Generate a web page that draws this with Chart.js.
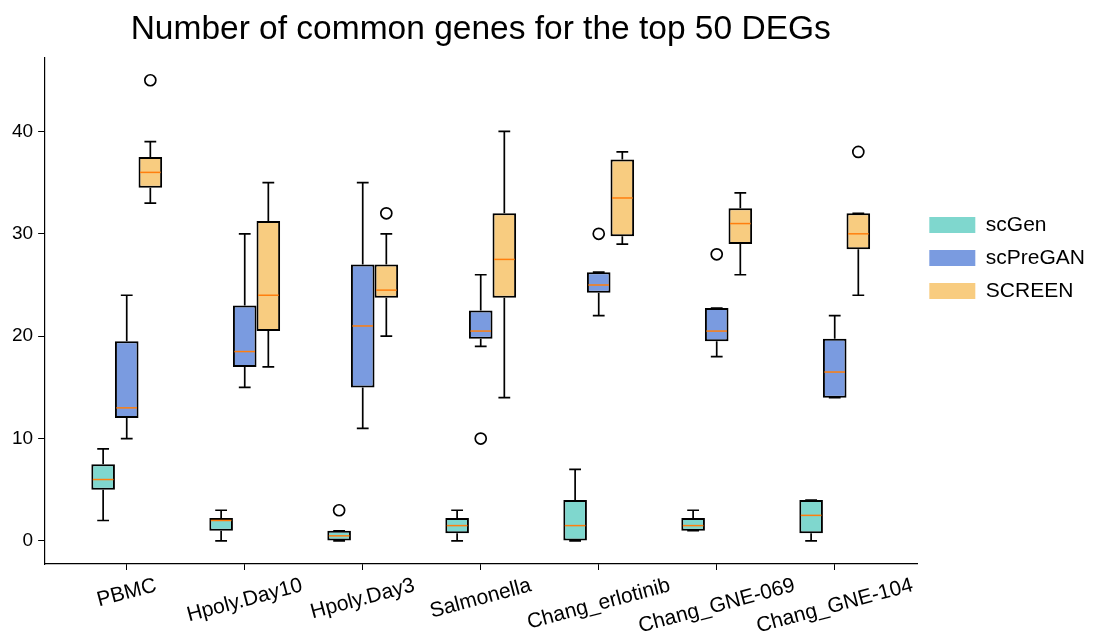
<!DOCTYPE html>
<html>
<head>
<meta charset="utf-8">
<script src="https://cdn.jsdelivr.net/npm/chart.js@4.4.1/dist/chart.umd.min.js"></script>
<style>html, body { margin: 0; padding: 0; background: #fff; }</style>
</head>
<body>
<canvas id="chart_commonGenes" width="1107" height="642"></canvas>
<script>
var categories = ['PBMC', 'Hpoly.Day10', 'Hpoly.Day3', 'Salmonella', 'Chang_erlotinib', 'Chang_GNE-069', 'Chang_GNE-104'];
var seriesNames = ['scGen', 'scPreGAN', 'SCREEN'];
var yTicks = [0, 10, 20, 30, 40];

// box stats per method: lower whisker, q1, median, q3, upper whisker, outliers
var scGenLow = [2, 0, 0, 0, 0, 1, 0];
var scGenQ1 = [5, 1, 0, 0.75, 0, 1, 0.75];
var scGenMedian = [6, 2, 0.5, 1.5, 1.5, 1.5, 2.5];
var scGenQ3 = [7.5, 2.25, 1, 2.25, 4, 2.25, 4];
var scGenHigh = [9, 3, 1, 3, 7, 3, 4];
var scGenOutliers = [[], [], [3], [], [], [], []];

var scPreGANLow = [10, 15, 11, 19, 22, 18, 14];
var scPreGANQ1 = [12, 17, 15, 19.75, 24.25, 19.5, 14];
var scPreGANMedian = [13, 18.5, 21, 20.5, 25, 20.5, 16.5];
var scPreGANQ3 = [19.5, 23, 27, 22.5, 26.25, 22.75, 19.75];
var scPreGANHigh = [24, 30, 35, 26, 26.25, 22.75, 22];
var scPreGANOutliers = [[], [], [], [10], [30], [28], []];

var screenLow = [33, 17, 20, 14, 29, 26, 24];
var screenQ1 = [34.5, 20.5, 23.75, 23.75, 29.75, 29, 28.5];
var screenMedian = [36, 24, 24.5, 27.5, 33.5, 31, 30];
var screenQ3 = [37.5, 31.25, 27, 32, 37.25, 32.5, 32];
var screenHigh = [39, 35, 30, 40, 38, 34, 32];
var screenOutliers = [[45], [], [32], [], [], [], [38]];

var colors = ['#7fd7ce', '#7a9be0', '#f8cc80'];
var FONT = '"Liberation Sans", Arial, sans-serif';

var stats = [
    {low: scGenLow, q1: scGenQ1, med: scGenMedian, q3: scGenQ3, high: scGenHigh, out: scGenOutliers},
    {low: scPreGANLow, q1: scPreGANQ1, med: scPreGANMedian, q3: scPreGANQ3, high: scPreGANHigh, out: scPreGANOutliers},
    {low: screenLow, q1: screenQ1, med: screenMedian, q3: screenQ3, high: screenHigh, out: screenOutliers}
];

var datasets = stats.map(function(s, k) {
    return {
        label: seriesNames[k],
        backgroundColor: colors[k],
        borderColor: '#000',
        borderWidth: 2,
        borderSkipped: false,
        categoryPercentage: 0.6,
        barPercentage: 1.0,
        data: categories.map(function(c, i) { return {x: i, y: [s.q1[i], s.q3[i]]}; })
    };
});

var boxExtras = {
    id: 'boxExtras',
    afterDatasetsDraw: function(chart) {
        var ctx = chart.ctx;
        var y = chart.scales.y;
        ctx.save();
        stats.forEach(function(s, k) {
            var meta = chart.getDatasetMeta(k);
            meta.data.forEach(function(bar, i) {
                var p = bar.getProps(['x', 'width'], true);
                var half = p.width / 2, cap = p.width / 4;
                ctx.strokeStyle = '#000';
                ctx.lineWidth = 1.7;
                ctx.beginPath();
                ctx.moveTo(p.x, y.getPixelForValue(s.q3[i]));
                ctx.lineTo(p.x, y.getPixelForValue(s.high[i]));
                ctx.moveTo(p.x, y.getPixelForValue(s.q1[i]));
                ctx.lineTo(p.x, y.getPixelForValue(s.low[i]));
                ctx.moveTo(p.x - cap, y.getPixelForValue(s.high[i]));
                ctx.lineTo(p.x + cap, y.getPixelForValue(s.high[i]));
                ctx.moveTo(p.x - cap, y.getPixelForValue(s.low[i]));
                ctx.lineTo(p.x + cap, y.getPixelForValue(s.low[i]));
                ctx.stroke();
                ctx.strokeStyle = '#ff7f0e';
                ctx.lineWidth = 1.5;
                ctx.beginPath();
                ctx.moveTo(p.x - half + 1.5, y.getPixelForValue(s.med[i]));
                ctx.lineTo(p.x + half - 1.5, y.getPixelForValue(s.med[i]));
                ctx.stroke();
                ctx.strokeStyle = '#000';
                ctx.lineWidth = 1.7;
                s.out[i].forEach(function(v) {
                    ctx.beginPath();
                    ctx.arc(p.x, y.getPixelForValue(v), 5.5, 0, Math.PI * 2);
                    ctx.stroke();
                });
            });
        });
        ctx.restore();
    },
    afterDraw: function(chart) {
        // rotated category labels, centred under each tick like matplotlib
        var ctx = chart.ctx;
        var x = chart.scales.x;
        var size = 21, angle = 15 * Math.PI / 180;
        var top = x.top + 6 + 5;
        ctx.save();
        ctx.font = size + 'px ' + FONT;
        ctx.fillStyle = '#000';
        ctx.textAlign = 'center';
        ctx.textBaseline = 'middle';
        categories.forEach(function(label, i) {
            var w = ctx.measureText(label).width;
            var boxH = w * Math.sin(angle) + size * Math.cos(angle);
            ctx.save();
            ctx.translate(x.getPixelForValue(i), top + boxH / 2);
            ctx.rotate(-angle);
            ctx.fillText(label, 0, 0);
            ctx.restore();
        });
        ctx.restore();
    }
};

var chart_commonGenes = new Chart(document.getElementById('chart_commonGenes'), {
    type: 'bar',
    data: {datasets: datasets},
    options: {
        animation: false,
        responsive: false,
        layout: {padding: {left: 7, right: 12, top: 0, bottom: 72}},
        plugins: {
            title: {
                display: true,
                text: 'Number of common genes for the top 50 DEGs',
                color: '#000',
                fullSize: false,
                font: {family: FONT, size: 33.5, weight: 'normal'},
                padding: {top: 10, bottom: 7}
            },
            legend: {
                position: 'right',
                align: 'start',
                title: {display: true, text: '', font: {size: 2}, padding: {top: 200, bottom: 0}},
                labels: {
                    boxWidth: 46,
                    boxHeight: 16,
                    padding: 12,
                    color: '#000',
                    font: {family: FONT, size: 21},
                    generateLabels: function(chart) {
                        return Chart.defaults.plugins.legend.labels.generateLabels(chart).map(function(l) {
                            l.lineWidth = 0;
                            l.strokeStyle = l.fillStyle;
                            return l;
                        });
                    }
                }
            },
            tooltip: {enabled: false}
        },
        scales: {
            x: {
                type: 'linear',
                min: -0.7,
                max: 6.7,
                offset: false,
                grid: {offset: false, drawOnChartArea: false, tickLength: 6, color: '#000'},
                border: {color: '#000', width: 1.2},
                ticks: {display: false},
                afterBuildTicks: function(scale) {
                    scale.ticks = categories.map(function(c, i) { return {value: i}; });
                }
            },
            y: {
                min: -2.25,
                max: 47.25,
                grid: {drawOnChartArea: false, tickLength: 6, color: '#000'},
                border: {color: '#000', width: 1.2},
                ticks: {color: '#000', padding: 5, font: {family: FONT, size: 19}},
                afterBuildTicks: function(scale) {
                    scale.ticks = yTicks.map(function(v) { return {value: v}; });
                }
            }
        }
    },
    plugins: [boxExtras]
});
</script>
</body>
</html>
